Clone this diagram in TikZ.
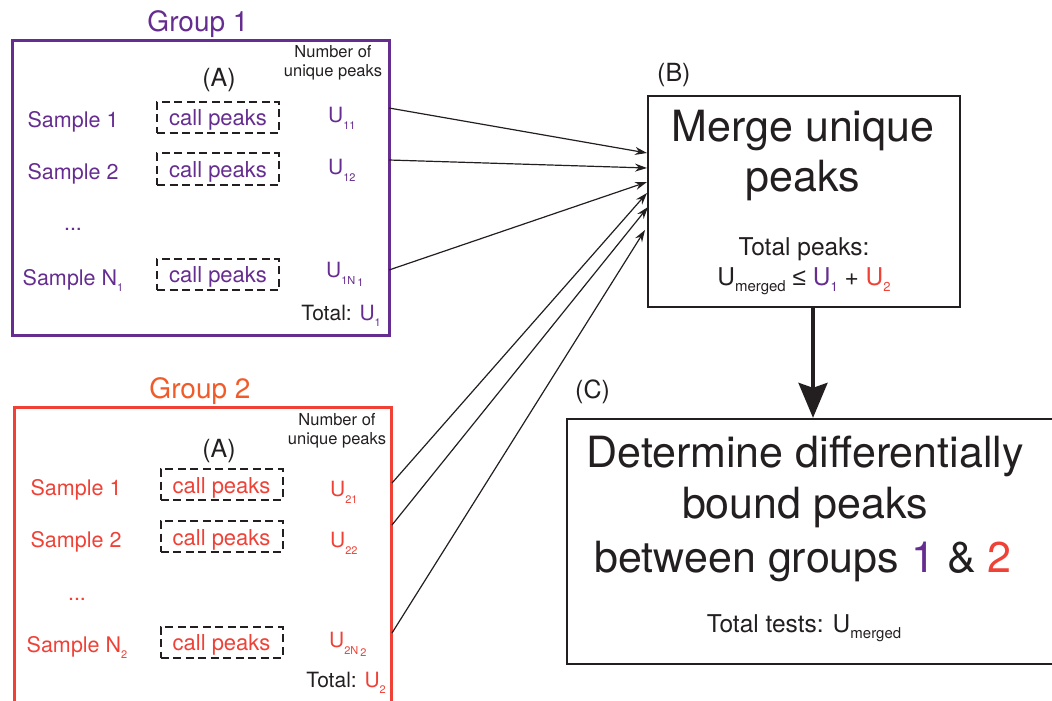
\documentclass[tikz,border=0pt]{standalone}
\usepackage{fontspec}
\setmainfont{TeX Gyre Heros}
\newfontfamily\symfont{Liberation Sans}
\usepackage{tikz}
\usetikzlibrary{arrows.meta}
\usetikzlibrary{calc}

\definecolor{grpone}{RGB}{102,45,145}
\definecolor{grptwo}{RGB}{239,65,54}
\definecolor{grptwotitle}{RGB}{241,90,41}
\definecolor{ink}{RGB}{35,31,32}

\newcommand{\fs}[1]{\fontsize{#1bp}{#1bp}\selectfont}
\newcommand{\lowsub}[3][7]{\raisebox{-#1bp}{\fs{#2}#3}}

\tikzset{
  txt/.style={inner sep=0pt, anchor=base, text=ink},
  title/.style={txt, font=\fs{28}},
  sample/.style={txt, font=\fs{21.5}},
  small/.style={txt, font=\fs{16.5}},
  count/.style={txt, anchor=base west, font=\fs{21}},
  big/.style={txt, font=\fs{43}},
  mid/.style={txt, font=\fs{24.5}},
  groupbox/.style={draw, line width=3.3bp, inner sep=0pt},
  stepbox/.style={draw=ink, line width=2.3bp, inner sep=0pt},
  callbox/.style={draw=ink, dashed, dash pattern=on 8bp off 4.5bp, line width=2bp,
    minimum width=122bp, minimum height=31bp, inner sep=0pt,
    text height=19bp, text depth=2bp, font=\fs{22}},
  feed/.style={draw=ink, line width=1.2bp, -{Stealth[length=12bp,width=8bp]}},
  bigarrow/.style={draw=ink, line width=3.5bp, -{Stealth[length=35bp,width=29bp,inset=5bp]}}
}

\begin{document}
\begin{tikzpicture}[x=1bp,y=-1bp]
    \useasboundingbox (0,0) rectangle (1052,701);
    \clip (0,0) rectangle (1052,701);

    % group 1
    \node[groupbox, draw=grpone, minimum width=377bp, minimum height=295bp] (g1) at (201,188) {};
    \node[title, text=grpone] (g1title) at (198,32) {Group 1};
    \node[txt, font=\fs{25}] (g1A) at (219,87) {(A)};
    \node[small] (g1num) at (333,58) {Number of};
    \node[small] (g1uniq) at (333,77) {unique peaks};
    \node[sample, text=grpone] (g1s1) at (73,128) {Sample 1};
    \node[sample, text=grpone] (g1s2) at (73,180) {Sample 2};
    \node[sample, text=grpone] (g1dots) at (73,230) {...};
    \node[sample, text=grpone] (g1sn) at (73,285) {Sample N\lowsub[6]{11}{1}};
    \node[callbox, text=grpone] (g1c1) at (218,117.5) {call peaks};
    \node[callbox, text=grpone] (g1c2) at (218,169) {call peaks};
    \node[callbox, text=grpone] (g1cn) at (218,274) {call peaks};
    \node[count, text=grpone] (g1u1) at (328,123) {U\lowsub{11}{11}};
    \node[count, text=grpone] (g1u2) at (328,175) {U\lowsub{11}{12}};
    \node[count, text=grpone] (g1un) at (326,277) {U\lowsub{11}{1N\,\lowsub[2]{11}{1}}};
    \node[count, anchor=base east] (g1tot) at (381,320) {Total: \textcolor{grpone}{U\lowsub[6]{11}{1}}};

    % group 2
    \node[groupbox, draw=grptwo, minimum width=377bp, minimum height=323bp] (g2) at (203,569) {};
    \node[title, text=grptwotitle] (g2title) at (200,398) {Group 2};
    \node[txt, font=\fs{25}] (g2A) at (219,457) {(A)};
    \node[small] (g2num) at (337,425) {Number of};
    \node[small] (g2uniq) at (337,444) {unique peaks};
    \node[sample, text=grptwo] (g2s1) at (76,495) {Sample 1};
    \node[sample, text=grptwo] (g2s2) at (76,547) {Sample 2};
    \node[sample, text=grptwo] (g2dots) at (77,600) {...};
    \node[sample, text=grptwo] (g2sn) at (77,652) {Sample N\lowsub[6]{11}{2}};
    \node[callbox, text=grptwo] (g2c1) at (221.5,484.5) {call peaks};
    \node[callbox, text=grptwo] (g2c2) at (221.5,536.5) {call peaks};
    \node[callbox, text=grptwo] (g2cn) at (221.5,642) {call peaks};
    \node[count, text=grptwo] (g2u1) at (330,496) {U\lowsub{11}{21}};
    \node[count, text=grptwo] (g2u2) at (330,547) {U\lowsub{11}{22}};
    \node[count, text=grptwo] (g2un) at (329,647) {U\lowsub{11}{2N\,\lowsub[2]{11}{2}}};
    \node[count, anchor=base east] (g2tot) at (386,687) {Total: \textcolor{grptwo}{U\lowsub[6]{11}{2}}};

    % merge step
    \node[txt, anchor=base west, font=\fs{25}] (labB) at (657,82) {(B)};
    \node[stepbox, minimum width=312bp, minimum height=211bp] (merge) at (804,201.5) {};
    \node[big] (mline1) at (803,142) {Merge unique};
    \node[big] (mline2) at (803,192) {peaks};
    \node[mid] (mtot) at (804,255) {Total peaks:};
    \node[mid] (mform) at (804,285) {U\lowsub[6]{15}{merged} {\symfont ≤} \textcolor{grpone}{U\lowsub[6]{13}{1}} + \textcolor{grptwo}{U\lowsub[6]{13}{2}}};

    % test step
    \node[txt, anchor=base west, font=\fs{25}] (labC) at (575,398) {(C)};
    \node[stepbox, minimum width=503bp, minimum height=245bp] (diff) at (818.5,541.5) {};
    \node[big] (dline1) at (805,467) {Determine differentially};
    \node[big] (dline2) at (805,518) {bound peaks};
    \node[big] (dline3) at (803,572) {between groups \textcolor{grpone}{1} \& \textcolor{grptwo}{2}};
    \node[mid] (dtot) at (804,632) {Total tests: U\lowsub[6]{15}{merged}};

    % connectors
    \coordinate (o11) at (389,108);
    \coordinate (o12) at (389,160);
    \coordinate (o1n) at (389,270);
    \coordinate (o21) at (392,483);
    \coordinate (o22) at (392,525);
    \coordinate (o2n) at (392,633);
    \coordinate (i11) at (647,153);
    \coordinate (i12) at (647,168);
    \coordinate (i1n) at (647,182);
    \coordinate (i21) at (647,193);
    \coordinate (i22) at (648,207);
    \coordinate (i2n) at (645,230);
    \draw[feed] (o11) -- (i11);
    \draw[feed] (o12) -- (i12);
    \draw[feed] (o1n) -- (i1n);
    \draw[feed] (o21) -- (i21);
    \draw[feed] (o22) -- (i22);
    \draw[feed] (o2n) -- (i2n);
    \coordinate (down) at ($(merge.south)+(9,0)$);
    \draw[bigarrow] (down) -- (down |- diff.north);
\end{tikzpicture}
\end{document}
